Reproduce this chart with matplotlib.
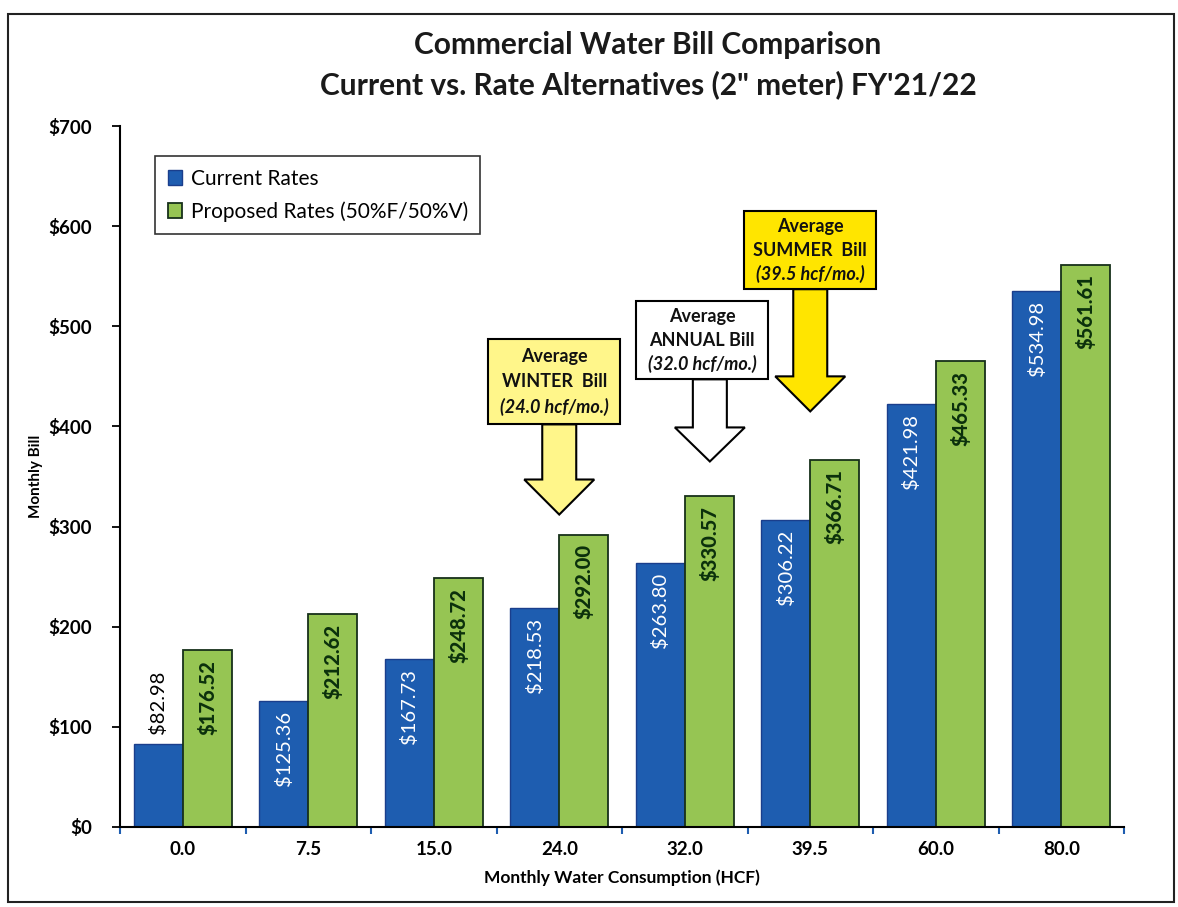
import matplotlib
matplotlib.use("Agg")
import matplotlib.pyplot as plt
from matplotlib.patches import Polygon, Rectangle
import numpy as np

plt.rcParams['font.family'] = ['Lato', 'DejaVu Sans']

# ---------------- data ----------------
categories = ["0.0", "7.5", "15.0", "24.0", "32.0", "39.5", "60.0", "80.0"]
current_rates = [82.98, 125.36, 167.73, 218.53, 263.80, 306.22, 421.98, 534.98]
proposed_rates = [176.52, 212.62, 248.72, 292.00, 330.57, 366.71, 465.33, 561.61]
series_names = ["Current Rates", "Proposed Rates (50%F/50%V)"]
y_ticks = [0, 100, 200, 300, 400, 500, 600, 700]

# callout annotations: category index, box top/bottom (values), arrow head start, arrow tip
callouts = [
    dict(lines=["Average", "WINTER  Bill", "(24.0 hcf/mo.)"], cat=3, dx=-0.04,
         top=487, bottom=402, head=347, tip=312, fill="#FFF68A", shaft_dx=0.0),
    dict(lines=["Average", "ANNUAL Bill", "(32.0 hcf/mo.)"], cat=4, dx=0.14,
         top=525, bottom=447, head=399, tip=365, fill="#FFFFFF", shaft_dx=0.2),
    dict(lines=["Average", "SUMMER  Bill", "(39.5 hcf/mo.)"], cat=5, dx=0.0,
         top=615, bottom=537, head=450, tip=415, fill="#FFE500", shaft_dx=0.0),
]

BLUE = "#1E5DB0"
GREEN = "#96C553"

fig = plt.figure(figsize=(11.78, 9.07), dpi=100)
ax = fig.add_axes([120/1178, 1-827/907, 1004/1178, 701/907])

x = np.arange(len(categories))
w = 0.39
b1 = ax.bar(x - w/2, current_rates, w, color=BLUE, edgecolor="#1A3E8C", linewidth=1.0,
            label=series_names[0])
b2 = ax.bar(x + w/2, proposed_rates, w, color=GREEN, edgecolor="#17301A", linewidth=1.3,
            label=series_names[1])

# data labels
for i, (r, v) in enumerate(zip(b1, current_rates)):
    cx = r.get_x() + r.get_width()/2
    if i == 0:
        ax.annotate(f"${v:.2f}", (cx, v), xytext=(0, 7), textcoords="offset points",
                    rotation=90, ha="center", va="bottom", fontsize=14.5, color="black")
    else:
        ax.annotate(f"${v:.2f}", (cx, v), xytext=(0, -7), textcoords="offset points",
                    rotation=90, ha="center", va="top", fontsize=14.5, color="white")
for r, v in zip(b2, proposed_rates):
    cx = r.get_x() + r.get_width()/2
    ax.annotate(f"${v:.2f}", (cx, v), xytext=(0, -7), textcoords="offset points",
                rotation=90, ha="center", va="top", fontsize=14.5, color="#0B300C",
                fontweight="black")

ax.set_xlim(-0.5, len(categories) - 0.5)
ax.set_ylim(0, 700)
ax.set_yticks(y_ticks)
ax.set_yticklabels([f"${t}" for t in y_ticks], fontsize=13.5, fontweight="bold")
ax.set_xticks(x)
ax.set_xticklabels(categories, fontsize=13.5, fontweight="bold")
ax.set_xticks(np.arange(-0.5, len(categories)), minor=True)
ax.tick_params(axis="x", which="major", length=0, pad=10)
ax.tick_params(axis="x", which="minor", length=5, width=1.5, direction="out", color="#1E5DB0")
ax.tick_params(axis="y", which="major", length=6, width=1.3, direction="out", pad=14)

for s in ["top", "right"]:
    ax.spines[s].set_visible(False)
for s in ["left", "bottom"]:
    ax.spines[s].set_linewidth(1.5)

ax.set_xlabel("Monthly Water Consumption (HCF)", fontsize=12.5, fontweight="bold", labelpad=8)
ax.set_ylabel("Monthly Bill", fontsize=11, fontweight="bold", labelpad=4)

fig.text(0.55, 1-45/907, "Commercial Water Bill Comparison", ha="center", va="center",
         fontsize=21.5, fontweight="bold", color="#1a1a1a")
fig.text(0.55, 1-85/907, "Current vs. Rate Alternatives (2\" meter) FY'21/22", ha="center",
         va="center", fontsize=21.5, fontweight="bold", color="#1a1a1a")

leg = ax.legend(loc="upper left", bbox_to_anchor=(0.035, 0.957), fontsize=15,
                frameon=True, fancybox=False, handlelength=0.7, handleheight=0.7,
                handletextpad=0.4, borderpad=0.6, labelspacing=0.6, borderaxespad=0)
leg.get_frame().set_edgecolor("black")
leg.get_frame().set_linewidth(1.2)

# callout boxes with arrows
shaft_hw = 17/125.5
head_hw = 35/125.5
box_hw = 66/125.5
for c in callouts:
    bx = c["cat"] + c["dx"]
    sx = c["cat"] + c["shaft_dx"]
    ax.add_patch(Rectangle((bx - box_hw, c["bottom"]), 2*box_hw, c["top"] - c["bottom"],
                           facecolor=c["fill"], edgecolor="black", linewidth=1.5, zorder=5))
    pts = [(sx - shaft_hw, c["bottom"]), (sx + shaft_hw, c["bottom"]),
           (sx + shaft_hw, c["head"]), (sx + head_hw, c["head"]), (sx, c["tip"]),
           (sx - head_hw, c["head"]), (sx - shaft_hw, c["head"])]
    ax.add_patch(Polygon(pts, closed=True, facecolor=c["fill"], edgecolor="black",
                         linewidth=1.5, zorder=5))
    h = c["top"] - c["bottom"]
    for k, line in enumerate(c["lines"]):
        yy = c["top"] - h*(0.2 + 0.3*k)
        ax.text(bx, yy, line, ha="center", va="center", fontsize=13, fontweight="bold",
                fontstyle="italic" if k == 2 else "normal", zorder=6, color="#111111")

# outer frame
fig.add_artist(Rectangle((8/1178, 1-902/907), 1166/1178, 888/907, transform=fig.transFigure,
                         fill=False, edgecolor="#222222", linewidth=1.5))

fig.savefig("out.png", dpi=100)
